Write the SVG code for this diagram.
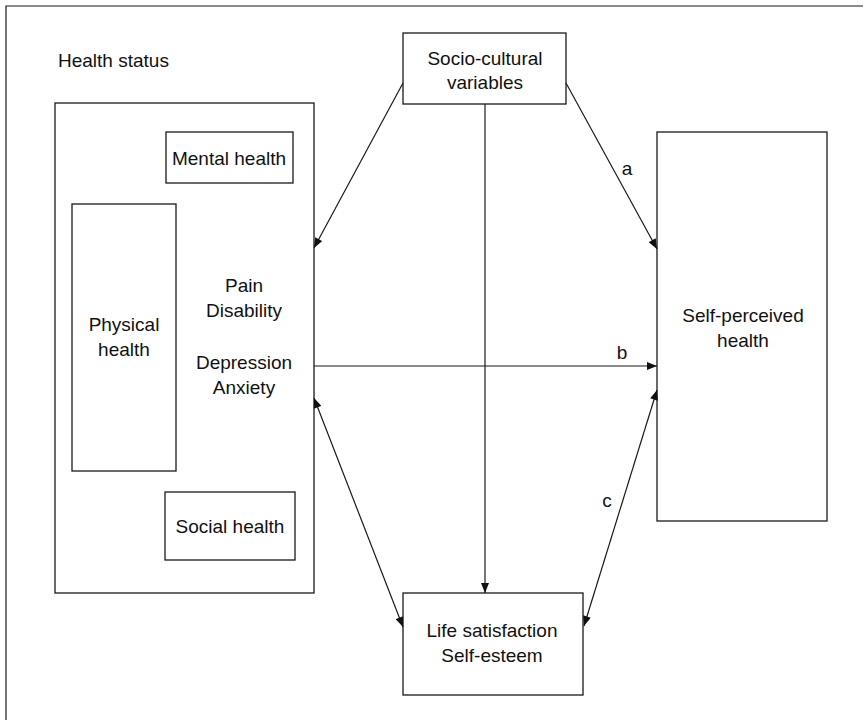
<svg xmlns="http://www.w3.org/2000/svg" width="867" height="720" viewBox="0 0 867 720">
<defs>
<style>
.box{fill:none;stroke:#1a1a1a;stroke-width:1.3}
.ln{fill:none;stroke:#1a1a1a;stroke-width:1.2}
text{font-family:"Liberation Sans",Arial,Helvetica,sans-serif;font-size:19px;fill:#111;text-anchor:middle}
.lft{text-anchor:start}
</style>
<marker id="ah" viewBox="0 0 10 8" refX="10" refY="4" markerWidth="11" markerHeight="8" markerUnits="userSpaceOnUse" orient="auto-start-reverse">
<path d="M0,0 L10,4 L0,8 z" fill="#111"/>
</marker>
</defs>
<rect width="867" height="720" fill="#fff"/>
<path class="ln" d="M6,720 V6 H863"/>

<g id="health-status">
<text class="lft" x="58" y="67">Health status</text>
<rect class="box" x="55" y="103" width="259" height="490"/>
<text x="244" y="292">Pain</text>
<text x="244" y="317">Disability</text>
<text x="244" y="369">Depression</text>
<text x="244" y="394">Anxiety</text>
</g>
<g id="mental-health">
<rect class="box" x="166" y="132" width="127" height="51"/>
<text x="229" y="165">Mental health</text>
</g>
<g id="physical-health">
<rect class="box" x="72" y="204" width="104" height="267"/>
<text x="124" y="331">Physical</text>
<text x="124" y="356">health</text>
</g>
<g id="social-health">
<rect class="box" x="165" y="492" width="130" height="68"/>
<text x="230" y="533">Social health</text>
</g>
<g id="socio-cultural">
<rect class="box" x="403" y="33" width="163" height="71"/>
<text x="485" y="65">Socio-cultural</text>
<text x="485" y="89">variables</text>
</g>
<g id="self-perceived">
<rect class="box" x="657" y="132" width="170" height="389"/>
<text x="743" y="322">Self-perceived</text>
<text x="743" y="347">health</text>
</g>
<g id="life-satisfaction">
<rect class="box" x="403" y="593" width="180" height="102"/>
<text x="492" y="637">Life satisfaction</text>
<text x="492" y="662">Self-esteem</text>
</g>

<g id="connectors">
<line class="ln" x1="403" y1="83" x2="314" y2="248" marker-end="url(#ah)"/>
<line class="ln" x1="566" y1="83" x2="657" y2="249" marker-end="url(#ah)"/>
<line class="ln" x1="485" y1="104" x2="485" y2="593" marker-end="url(#ah)"/>
<line class="ln" x1="314" y1="366" x2="657" y2="366" marker-end="url(#ah)"/>
<line class="ln" x1="657" y1="390" x2="584" y2="626" marker-start="url(#ah)" marker-end="url(#ah)"/>
<line class="ln" x1="314" y1="398" x2="403" y2="627" marker-start="url(#ah)" marker-end="url(#ah)"/>
<text x="627" y="175">a</text>
<text x="622" y="359">b</text>
<text x="607" y="507">c</text>
</g>
</svg>
